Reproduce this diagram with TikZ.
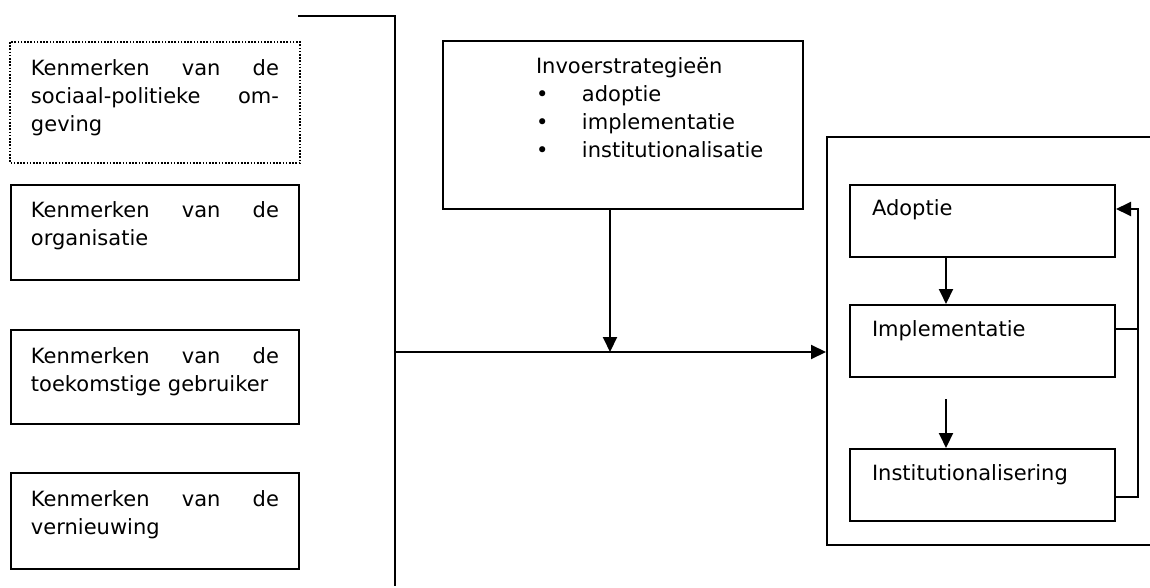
\documentclass[tikz,border=0pt]{standalone}
\usepackage{fontspec}
\setmainfont{DejaVu Sans}
\usetikzlibrary{arrows.meta}

\newcommand{\kfont}{\fontsize{10.5}{14}\selectfont}
\newcommand{\invspring}{\hspace*{36.5pt}}

\begin{document}
\begin{tikzpicture}[x=0.5pt, y=-0.5pt]
 \tikzstyle{kenmerk}=[draw, line width=1pt, anchor=north west,
                      text width=124pt, inner xsep=10pt, inner ysep=0pt,
                      align=left, text height=16.5pt, font=\kfont]
 \tikzstyle{fase}=[draw, line width=1pt, anchor=north west,
                   text width=110.5pt, inner xsep=11pt, inner ysep=0pt,
                   align=left, text height=15.5pt, text depth=20.5pt, font=\kfont]
 \tikzstyle{lijn}=[line width=1pt]
 \tikzstyle{pijl}=[line width=1pt, -{Triangle[length=7.5pt,width=7pt]}]
 \clip (0,0) rectangle (1150,588);
 % kenmerken links
 \node[kenmerk, draw=none, text depth=43pt] (omgeving) at (10,42)
   {Kenmerken\hfill van\hfill de\\sociaal-politieke\hfill om-\\geving};
 \draw[line width=0.8pt, dash pattern=on 0.8pt off 0.8pt]
   (omgeving.north west) rectangle (omgeving.south east);
 \node[kenmerk, text depth=31pt] (organisatie) at (10,184)
   {Kenmerken\hfill van\hfill de\\organisatie};
 \node[kenmerk, text depth=30.5pt] (gebruiker) at (10,329)
   {Kenmerken\hfill van\hfill de\\toekomstige gebruiker};
 \node[kenmerk, text depth=31.5pt] (vernieuwing) at (10,472)
   {Kenmerken\hfill van\hfill de\\vernieuwing};
 % haak
 \coordinate (haak) at (298,16);
 \coordinate (haakonder) at (395,586);
 \draw[lijn] (haak) -| (haakonder);
 % invoerstrategieen
 \node[kenmerk, text width=160pt, text depth=67.5pt] (invoer) at (442,40)
   {\invspring Invoerstrategieën\\
    \invspring\makebox[23pt][l]{•}adoptie\\
    \invspring\makebox[23pt][l]{•}implementatie\\
    \invspring\makebox[23pt][l]{•}institutionalisatie};
 % fasen
 \node[draw, lijn, anchor=north west, minimum width=200pt, minimum height=204pt,
       inner sep=0pt] (fasen) at (826,136) {};
 \node[fase] (adoptie) at (849,184) {Adoptie};
 \node[fase] (implementatie) at (849,304) {Implementatie};
 \node[fase] (institutionalisering) at (849,448) {Institutionalisering};
 % verbindingen
 \coordinate (kruis) at (610,352);
 \coordinate (tak) at (395,352);
 \coordinate (as) at (946,0);
 \coordinate (vrij) at (946,399);
 \coordinate (terug) at (1138,0);
 \draw[pijl] (invoer.south -| kruis) -- (kruis);
 \draw[pijl] (tak) -- (fasen.west |- tak);
 \draw[pijl] (adoptie.south -| as) -- (implementatie.north -| as);
 \draw[pijl] (vrij) -- (institutionalisering.north -| vrij);
 \draw[pijl] ([yshift=-6pt]institutionalisering.east) -| ([yshift=6pt]adoptie.east -| terug)
   -- ([yshift=6pt]adoptie.east);
 \draw[lijn] ([yshift=6pt]implementatie.east) -- ([yshift=6pt]implementatie.east -| terug);
\end{tikzpicture}
\end{document}
